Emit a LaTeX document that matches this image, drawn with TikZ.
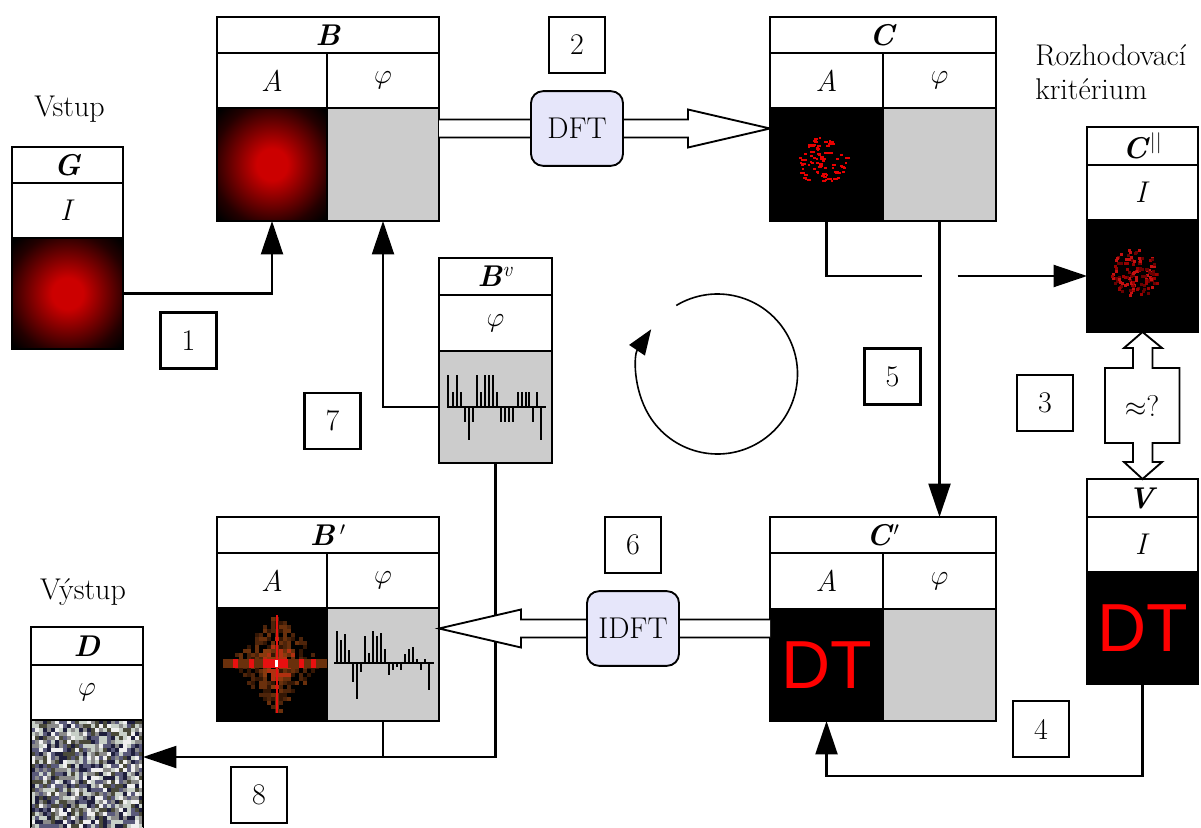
\documentclass[tikz,border=0pt]{standalone}
\usepackage{fontspec}
\newfontfamily\dtfont{Liberation Sans}
\usetikzlibrary{arrows.meta,calc}
\definecolor{grayfill}{HTML}{CCCCCC}
\definecolor{lav}{HTML}{E6E6FA}
\definecolor{glowred}{HTML}{CC0000}
\definecolor{glowmid}{HTML}{780000}
\definecolor{glowdark}{HTML}{240000}
\definecolor{speck}{HTML}{E80000}
\definecolor{speckA}{HTML}{9A0000}
\definecolor{speckB}{HTML}{C41010}
\definecolor{speckC}{HTML}{6A0000}
\definecolor{fft1}{HTML}{341604}
\definecolor{fft2}{HTML}{4E240A}
\definecolor{fft3}{HTML}{6A300C}
\definecolor{fft4}{HTML}{8A3A0E}
\definecolor{fft5}{HTML}{B03010}
\definecolor{fftred}{HTML}{E81010}
\definecolor{nz1}{HTML}{1E1E3C}
\definecolor{nz2}{HTML}{F0F0F0}
\definecolor{nz3}{HTML}{8A8A8A}
\definecolor{nz4}{HTML}{C8D0C8}
\definecolor{nz5}{HTML}{4A4A3A}
\definecolor{nz6}{HTML}{5A5A7A}
\definecolor{dtred}{HTML}{FF0000}
\pgfdeclareradialshading{glow}{\pgfpoint{0bp}{0bp}}{color(0bp)=(glowred); color(7bp)=(glowred); color(17bp)=(glowmid); color(27bp)=(glowdark); color(34bp)=(black); color(50bp)=(black)}
\newcommand\hd[1]{\textbf{\textit{#1}}}
\newcommand\phs{$\varphi$}
\newcommand\mkcell[7]{\node[cellbase,#6,minimum width={(#4-#2)*0.75pt},minimum height={(#5-#3)*0.75pt}] (#1) at ({(#2+#4)/2},{(#3+#5)/2}) {#7};}
\tikzset{
  cellbase/.style={draw, rectangle, line width=1.6pt, inner sep=0pt, outer sep=0pt},
  graycell/.style={fill=grayfill},
  blkcell/.style={fill=black},
  glowcell/.style={shade, shading=glow},
  numbox/.style={draw, rectangle, line width=1.6pt, inner sep=0pt, outer sep=0pt, minimum width=42pt, minimum height=42pt},
  procbox/.style={draw, rectangle, line width=1.4pt, rounded corners=9pt, fill=lav, inner sep=0pt, outer sep=0pt, minimum width=69pt, minimum height=56pt},
  conn/.style={line width=1.55pt},
  tri/.style={-{Triangle[length=25pt,width=16.5pt]}},
  hollow/.style={line width=1.4pt, fill=white, line join=miter},
  lbl/.style={inner sep=0pt},
  bar/.style={line width=1.7pt},
  dtext/.style={font=\dtfont\fontsize{51}{51}\selectfont, text=dtred}
}
\begin{document}
\begin{tikzpicture}[x=0.75pt, y=-0.75pt, font=\fontsize{22.5}{26}\selectfont]
\useasboundingbox (0,0) rectangle (1201,827);

% ---------- tables ----------
% G
\mkcell{Gh}{12}{147}{123}{183}{}{\hd{G}}
\mkcell{GI}{12}{183}{123}{238}{}{\textit{I}}
\mkcell{Gi}{12}{238}{123}{349}{glowcell}{}
% B
\mkcell{Bh}{217}{17}{439}{53}{}{\hd{B}}
\mkcell{BA}{217}{53}{327}{108}{}{\textit{A}}
\mkcell{Bp}{327}{53}{439}{108}{}{\phs}
\mkcell{BAi}{217}{108}{327}{221}{glowcell}{}
\mkcell{Bpi}{327}{108}{439}{221}{graycell}{}
% C
\mkcell{Ch}{770}{17}{996}{53}{}{\hd{C}}
\mkcell{CA}{770}{53}{883}{108}{}{\textit{A}}
\mkcell{Cp}{883}{53}{996}{108}{}{\phs}
\mkcell{CAi}{770}{108}{883}{221}{blkcell}{}
\mkcell{Cpi}{883}{108}{996}{221}{graycell}{}
% C''
\mkcell{Cqh}{1087}{127}{1198}{165}{}{\hd{C}\textsuperscript{||}}
\mkcell{CqI}{1087}{165}{1198}{220}{}{\textit{I}}
\mkcell{Cqi}{1087}{220}{1198}{332}{blkcell}{}
% V
\mkcell{Vh}{1087}{479}{1198}{517}{}{\hd{V}}
\mkcell{VI}{1087}{517}{1198}{572}{}{\textit{I}}
\mkcell{Vi}{1087}{572}{1198}{684}{blkcell,dtext}{DT}
% C'
\mkcell{Krh}{770}{517}{996}{553}{}{\hd{C}$'$}
\mkcell{KrA}{770}{553}{883}{609}{}{\textit{A}}
\mkcell{Krp}{883}{553}{996}{609}{}{\phs}
\mkcell{KrAi}{770}{609}{883}{721}{blkcell,dtext}{DT}
\mkcell{Krpi}{883}{609}{996}{721}{graycell}{}
% B'
\mkcell{Brh}{217}{517}{439}{553}{}{\hd{B}\,$'$}
\mkcell{BrA}{217}{553}{327}{608}{}{\textit{A}}
\mkcell{Brp}{327}{553}{439}{608}{}{\phs}
\mkcell{BrAi}{217}{608}{327}{721}{blkcell}{}
\mkcell{Brpi}{327}{608}{439}{721}{graycell}{}
% B^v
\mkcell{Bvh}{439}{258}{552}{295}{}{\hd{B}\textsuperscript{\textit{v}}}
\mkcell{Bvp}{439}{295}{552}{351}{}{\phs}
\mkcell{Bvi}{439}{351}{552}{463}{graycell}{}
% D
\mkcell{Dh}{31}{627}{143}{665}{}{\hd{D}}
\mkcell{Dp}{31}{665}{143}{720}{}{\phs}
\mkcell{Di}{31}{720}{143}{827}{}{}

% ---------- image contents ----------
% C amplitude speckle
\pgfmathsetseed{11}
\foreach \i in {1,...,80}{
  \pgfmathsetmacro\r{25*sqrt(rnd)}
  \pgfmathsetmacro\a{360*rnd}
  \pgfmathsetmacro\w{2+3*rnd}
  \fill[speck] ({821+\r*cos(\a)},{161+\r*sin(\a)}) rectangle ++(\w,2);
}
% C'' speckle (darker)
\pgfmathsetseed{23}
\foreach \i in {1,...,130}{
  \pgfmathsetmacro\r{24*sqrt(rnd)}
  \pgfmathsetmacro\a{360*rnd}
  \pgfmathrandominteger{\k}{1}{3}
  \ifcase\k\or\def\sc{speckA}\or\def\sc{speckB}\or\def\sc{speckC}\fi
  \fill[fill=\sc] ({1134+\r*cos(\a)},{272+\r*sin(\a)}) rectangle ++(3,3);
}
% B' amplitude: FFT-like pattern
\pgfmathsetseed{7}
\foreach \i in {1,...,280}{
  \pgfmathsetmacro\u{2*rnd-1}
  \pgfmathsetmacro\v{2*rnd-1}
  \pgfmathsetmacro\dx{4*round(23*(\u+\v)/4)}
  \pgfmathsetmacro\dy{4*round(25*(\u-\v)/4)}
  \pgfmathrandominteger{\k}{1}{3}
  \ifcase\k\or\def\fc{fft1}\or\def\fc{fft2}\or\def\fc{fft3}\fi
  \fill[fill=\fc] ({275+\dx},{661+\dy}) rectangle ++(4,4);
}
\foreach \i in {1,...,90}{
  \pgfmathsetmacro\u{2*rnd-1}
  \pgfmathsetmacro\v{2*rnd-1}
  \pgfmathsetmacro\dx{4*round(12*(\u+\v)/4)}
  \pgfmathsetmacro\dy{4*round(13*(\u-\v)/4)}
  \pgfmathrandominteger{\k}{3}{5}
  \ifcase\k\or\or\or\def\fc{fft3}\or\def\fc{fft4}\or\def\fc{fft5}\fi
  \fill[fill=\fc] ({275+\dx},{661+\dy}) rectangle ++(4,4);
}
\foreach \xx in {223,231,...,319}{
  \fill[fft3] (\xx,659) rectangle ++(8,9);
}
\foreach \xx in {233,249,263,283,299,311}{
  \fill[fftred] (\xx,659) rectangle ++(5,9);
}
\fill[fftred] (268,659) rectangle (286,668);
\fill[fftred] (275.5,615) rectangle (277.5,713);
\fill[white] (275,660) rectangle (278,667);

% D noise
\begin{scope}
\clip (31,720) rectangle (143,827);
\pgfmathsetseed{3}
\foreach \i in {0,...,27}{
  \foreach \j in {0,...,26}{
    \pgfmathrandominteger{\k}{1}{6}
    \fill[fill=nz\k] ({31+4*\i},{720+4*\j}) rectangle ++(4,4);
  }
}
\end{scope}
\draw[line width=1.6pt] (Di.south west) -- (Di.north west) -- (Di.north east) -- (Di.south east);

% phase plots
\draw[bar] (447,407) -- (546,407);
\foreach \x/\h in {448.3/31.7, 452.7/15, 456.7/31.7, 460.7/15, 465/-15, 469/-33.3, 472.7/-15, 476.7/31.7, 480.7/15, 485/31.7, 489/31.7, 492.7/31.7, 496.7/15, 501/-15, 505/-15, 509.3/-15, 513.3/-15, 517.7/15, 521.7/15, 525.7/15, 529.3/15, 533.3/-15, 537.3/15, 541/-33.3}
  \draw[bar] (\x,407) -- (\x,{407-(\h)});
\draw[bar] (334,663) -- (434,663);
\foreach \x/\h in {336.7/32, 340.7/22.7, 344.7/28.7, 348.7/12.7, 352.7/-19, 356.7/-35.7, 360.7/-9, 364.7/26.7, 368.7/10.3, 372.7/32, 376.7/26.7, 380.7/30.3, 384.7/14.3, 388.7/-12.3, 392.7/-7.3, 396.7/-4, 400.7/-7.3, 404.7/8.7, 408.7/14.3, 412.7/16, 416.7/4.3, 420.7/-7.3, 424.7/4.3, 428.7/-26.7}
  \draw[bar] (\x,663) -- (\x,{663-(\h)});

% ---------- labels ----------
\node[lbl, anchor=base] (vstup) at (69.5,117) {Vstup};
\node[lbl, anchor=base] (vystup) at (83,599) {Výstup};
\node[lbl, anchor=base west] (crit1) at (1035,66) {Rozhodovací};
\node[lbl, anchor=base west] (crit2) at (1035,100) {kritérium};

% ---------- number boxes ----------
\node[numbox] (n1) at (188.5,340.5) {1};
\node[numbox] (n2) at (577,45) {2};
\node[numbox] (n3) at (1045,403) {3};
\node[numbox] (n4) at (1041,729) {4};
\node[numbox] (n5) at (892.5,376.5) {5};
\node[numbox] (n6) at (633,545) {6};
\node[numbox] (n7) at (332.5,421) {7};
\node[numbox] (n8) at (259,795) {8};

% ---------- connectors ----------
\draw[conn,tri] (Gi.east) -| (BAi.south);
\draw[conn,tri] (Bvi.west) -| (Bpi.south);
\draw[conn] (CAi.south) |- ($(Cpi.south |- Cqi.west)+(-18,0)$);
\draw[conn,tri] ($(Cpi.south |- Cqi.west)+(18,0)$) -- (Cqi.west);
\draw[conn,tri] (Cpi.south) -- (Cpi.south |- Krh.north);
\draw[conn,tri] (Vi.south) -- ++(0,92) -| (KrAi.south);
\coordinate (Din) at ($(Di.north east)+(0,37)$);
\draw[conn,tri] (Bvi.south) |- (Din);
\draw[conn] (Brpi.south) -- (Brpi.south |- Din);

% DFT hollow arrow
\coordinate (dA) at (Bpi.east |- 0,128.5);
\coordinate (dB) at (CAi.west |- 0,128.5);
\draw[hollow] ($(dA)+(0,-9)$) -- ($(dB)+(-82,-9)$) -- ($(dB)+(-82,-19)$) -- (dB) -- ($(dB)+(-82,19)$) -- ($(dB)+(-82,9)$) -- ($(dA)+(0,9)$);
\node[procbox] (DFT) at ($(dA)!0.5!(dB)+(-27.5,0)$) {DFT};

% IDFT hollow arrow
\coordinate (iA) at (KrAi.west |- 0,628.5);
\coordinate (iB) at (Brpi.east |- 0,628.5);
\draw[hollow] ($(iA)+(0,-9)$) -- ($(iB)+(82,-9)$) -- ($(iB)+(82,-19)$) -- (iB) -- ($(iB)+(82,19)$) -- ($(iB)+(82,9)$) -- ($(iA)+(0,9)$);
\node[procbox] (IDFT) at ($(iA)!0.5!(iB)+(28.5,0)$) {IDFT};

% comparison double arrow
\draw[hollow] (Cqi.south) -- ++(19.5,16) -- ++(-9.5,0) -- ++(0,20) -- ++(27,0) -- ++(0,75) -- ++(-27,0) -- ++(0,19) -- ++(9.5,0) -- (Vh.north) -- ++(-18.5,-17) -- ++(9,0) -- ++(0,-19) -- ++(-28,0) -- ++(0,-75) -- ++(28,0) -- ++(0,-20) -- ++(-9,0) -- cycle;
\node[lbl] (approx) at (1142,405.5) {$\approx$?};

% iteration cycle
\coordinate (cyc) at (717.5,374);
\draw[line width=1.2pt, -{Triangle[length=19pt,width=14pt]}] ([shift={(121:60pt)}]cyc) arc[start angle=121, end angle=-214, radius=60pt];
\end{tikzpicture}
\end{document}
